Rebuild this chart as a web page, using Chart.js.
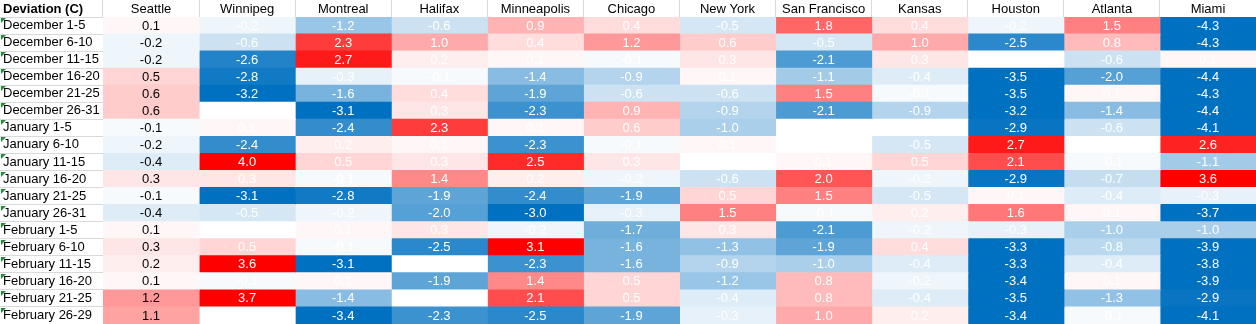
<!DOCTYPE html>
<html>
<head>
<meta charset="utf-8">
<script src="https://cdn.jsdelivr.net/npm/chart.js@4.4.1/dist/chart.umd.min.js"></script>
<style>
  html, body { margin: 0; padding: 0; background: #fff; }
  #wrap { width: 1256px; height: 324px; position: relative; }
</style>
</head>
<body>
<div id="wrap"><canvas id="heat"></canvas></div>
<script>
// Row labels (5-day periods)
const rowLabels = [
    "December 1-5", "December 6-10", "December 11-15", "December 16-20",
    "December 21-25", "December 26-31", "January 1-5", "January 6-10",
    "January 11-15", "January 16-20", "January 21-25", "January 26-31",
    "February 1-5", "February 6-10", "February 11-15", "February 16-20",
    "February 21-25", "February 26-29"
];

const cities = [
    "Seattle", "Winnipeg", "Montreal", "Halifax", "Minneapolis", "Chicago",
    "New York", "San Francisco", "Kansas", "Houston", "Atlanta", "Miami"
];

// Temperature deviation per city (C)
const seattle      = [0.1, -0.2, -0.2, 0.5, 0.6, 0.6, -0.1, -0.2, -0.4, 0.3, -0.1, -0.4, 0.1, 0.3, 0.2, 0.1, 1.2, 1.1];
const winnipeg     = [-0.2, -0.6, -2.6, -2.8, -3.2, 0.0, 0.1, -2.4, 4.0, 0.3, -3.1, -0.5, 0.0, 0.5, 3.6, -0.1, 3.7, 0.0];
const montreal     = [-1.2, 2.3, 2.7, -0.3, -1.6, -3.1, -2.4, 0.2, 0.5, -0.1, -2.8, -0.2, 0.1, -0.1, -3.1, 0.1, -1.4, -3.4];
const halifax      = [-0.6, 1.0, 0.2, -0.1, 0.4, 0.3, 2.3, 0.1, 0.3, 1.4, -1.9, -2.0, 0.3, -2.5, 0.0, -1.9, 0.0, -2.3];
const minneapolis  = [0.9, 0.4, 0.1, -1.4, -1.9, -2.3, 0.1, -2.3, 2.5, 0.2, -2.4, -3.0, -0.2, 3.1, -2.3, 1.4, 2.1, -2.5];
const chicago      = [0.4, 1.2, -0.1, -0.9, -0.6, 0.9, 0.6, -0.1, 0.3, -0.2, -1.9, -0.3, -1.7, -1.6, -1.6, 0.5, 0.5, -1.9];
const newYork      = [-0.5, 0.6, 0.3, 0.1, -0.6, -0.9, -1.0, 0.1, 0.0, -0.6, 0.5, 1.5, 0.3, -1.3, -0.9, -1.2, -0.4, -0.3];
const sanFrancisco = [1.8, -0.5, -2.1, -1.1, 1.5, -2.1, 0.0, 0.0, 0.1, 2.0, 1.5, -0.1, -2.1, -1.9, -1.0, 0.8, 0.8, 1.0];
const kansas       = [0.4, 1.0, 0.3, -0.4, -0.1, -0.9, 0.0, -0.5, 0.5, -0.2, -0.5, 0.2, -0.2, 0.4, -0.4, -0.2, -0.4, 0.2];
const houston      = [-0.2, -2.5, 0.0, -3.5, -3.5, -3.2, -2.9, 2.7, 2.1, -2.9, 0.1, 1.6, -0.3, -3.3, -3.3, -3.4, -3.5, -3.4];
const atlanta      = [1.5, 0.8, -0.6, -2.0, 0.1, -1.4, -0.6, 0.0, -0.1, -0.7, -0.4, 0.1, -1.0, -0.8, -0.4, 0.1, -1.3, -0.1];
const miami        = [-4.3, -4.3, 0.1, -4.4, -4.3, -4.4, -4.1, 2.6, -1.1, 3.6, -0.3, -3.7, -1.0, -3.9, -3.8, -3.9, -2.9, -4.1];

const cityValues = [seattle, winnipeg, montreal, halifax, minneapolis, chicago,
    newYork, sanFrancisco, kansas, houston, atlanta, miami];

const FONT = '"Liberation Sans", Arial, sans-serif';

// 3-colour scale: blue (-3) -> white (0) -> red (+3)
function cellColor(v) {
    const t = Math.min(Math.abs(v) / 3, 1);
    if (v >= 0) {
        const c = Math.round(255 - 255 * t);
        return `rgb(255, ${c}, ${c})`;
    }
    return `rgb(${Math.round(255 - 255 * t)}, ${Math.round(255 - 143 * t)}, ${Math.round(255 - 63 * t)})`;
}

// Each city is one column of floating bars spanning [i, i+1]
const datasets = cities.map((city, i) => ({
    label: city,
    data: rowLabels.map(() => [i, i + 1]),
    backgroundColor: cityValues[i].map(cellColor),
    borderWidth: 0,
    inflateAmount: 0.5,
    barPercentage: 1,
    categoryPercentage: 1,
    grouped: false
}));

// Values, corner header and the little green markers
const cellText = {
    id: "cellText",
    afterDatasetsDraw(chart) {
        const ctx = chart.ctx;
        ctx.save();
        ctx.font = "13px " + FONT;
        ctx.textAlign = "center";
        ctx.textBaseline = "middle";
        chart.data.datasets.forEach((ds, i) => {
            ctx.fillStyle = i === 0 ? "#000" : "#fff";
            chart.getDatasetMeta(i).data.forEach((bar, j) => {
                ctx.fillText(cityValues[i][j].toFixed(1), (bar.x + bar.base) / 2, bar.y + 0.5);
            });
        });

        ctx.textAlign = "left";
        ctx.fillStyle = "#000";
        ctx.font = "bold 13px " + FONT;
        ctx.fillText("Deviation (C)", 3, 9);

        const y = chart.scales.y;
        const half = y.height / rowLabels.length / 2;
        ctx.fillStyle = "#1f8f3a";
        rowLabels.forEach((_, j) => {
            const top = Math.round(y.getPixelForValue(j) - half);
            ctx.beginPath();
            ctx.moveTo(1, top + 1);
            ctx.lineTo(6, top + 1);
            ctx.lineTo(1, top + 6);
            ctx.closePath();
            ctx.fill();
        });
        ctx.restore();
    }
};

Chart.defaults.font.family = FONT;
Chart.defaults.font.size = 13;
Chart.defaults.color = "#000";

new Chart(document.getElementById("heat"), {
    type: "bar",
    data: { labels: rowLabels, datasets },
    options: {
        indexAxis: "y",
        responsive: true,
        maintainAspectRatio: false,
        animation: false,
        layout: { padding: { left: 3, right: 0, top: 0, bottom: 0 } },
        plugins: {
            legend: { display: false },
            tooltip: { enabled: false }
        },
        scales: {
            x: { type: "linear", min: 0, max: 12, display: false },
            x2: {
                type: "category",
                labels: cities,
                position: "top",
                offset: true,
                grid: { offset: true, drawOnChartArea: false, tickLength: 17, color: "#d9d9d9" },
                border: { display: false },
                ticks: { autoSkip: false, maxRotation: 0, padding: -17, color: "#000" },
                afterFit(s) { s.height = 17; s.paddingLeft = 0; s.paddingRight = 0; }
            },
            y: {
                type: "category",
                offset: true,
                grid: { offset: true, drawOnChartArea: false, tickLength: 103, color: "#d9d9d9" },
                border: { display: false },
                ticks: { autoSkip: false, crossAlign: "far", color: "#000" },
                afterFit(s) { s.width = 100; s.paddingTop = 0; s.paddingBottom = 0; }
            }
        }
    },
    plugins: [cellText]
});
</script>
</body>
</html>
